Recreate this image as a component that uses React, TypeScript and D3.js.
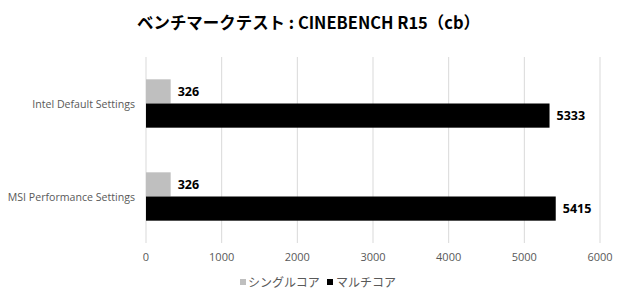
import React from "react";
import * as d3 from "d3";

const categories = ["Intel Default Settings", "MSI Performance Settings"];
const seriesNames = ["シングルコア", "マルチコア"];
const singleCore = [326, 326];
const multiCore = [5333, 5415];
const ticks = [0, 1000, 2000, 3000, 4000, 5000, 6000];
const title = "ベンチマークテスト : CINEBENCH R15（cb）";
const colors = ["#BFBFBF", "#000000"];

export default function App() {
  const W = 620, H = 300;
  const x = d3.scaleLinear().domain([0, 6000]).range([146, 600]);
  const y = d3.scaleBand().domain(categories).range([57, 243]).paddingInner(0.48).paddingOuter(0.24);
  const inner = d3.scaleBand().domain(seriesNames).range([0, y.bandwidth()]);
  const series = [singleCore, multiCore];
  const font = "'Segoe UI', 'Open Sans', 'Noto Sans', sans-serif";
  const jp = "'Noto Sans CJK JP', sans-serif";
  return (
    <svg width={W} height={H} style={{ position: "absolute", left: 0, top: 0, background: "#fff" }}>
      <text x={308.5} y={29} textAnchor="middle" fontFamily={jp} fontWeight="bold" fontSize={16.5} fill="#000" textLength={343} lengthAdjust="spacingAndGlyphs">{title}</text>
      {ticks.map((t) => (
        <line key={t} x1={x(t)} x2={x(t)} y1={57} y2={243} stroke="#D9D9D9" strokeWidth={1} />
      ))}
      {ticks.map((t) => (
        <text key={"t" + t} x={x(t)} y={261} textAnchor="middle" fontFamily={font} fontSize={11} fill="#595959">{t}</text>
      ))}
      {categories.map((c, i) => (
        <g key={c}>
          <text x={135} y={(y(c) as number) + y.bandwidth() / 2 + 4} textAnchor="end" fontFamily={font} fontSize={10.6} fill="#595959">{c}</text>
          {series.map((s, j) => {
            const yy = (y(c) as number) + (inner(seriesNames[j]) as number);
            return (
              <g key={j}>
                <rect x={x(0)} y={yy} width={x(s[i]) - x(0)} height={inner.bandwidth()} fill={colors[j]} />
                <text x={x(s[i]) + 7} y={yy + inner.bandwidth() / 2 + 4.5} fontFamily={font} fontWeight="bold" fontSize={12.5} fill="#000">{s[i]}</text>
              </g>
            );
          })}
        </g>
      ))}
      <g>
        <rect x={240} y={279} width={6} height={6} fill={colors[0]} />
        <text x={248} y={287} fontFamily={jp} fontSize={12} fill="#595959">{seriesNames[0]}</text>
        <rect x={327} y={279} width={6} height={6} fill={colors[1]} />
        <text x={336} y={287} fontFamily={jp} fontSize={12} fill="#595959">{seriesNames[1]}</text>
      </g>
    </svg>
  );
}
